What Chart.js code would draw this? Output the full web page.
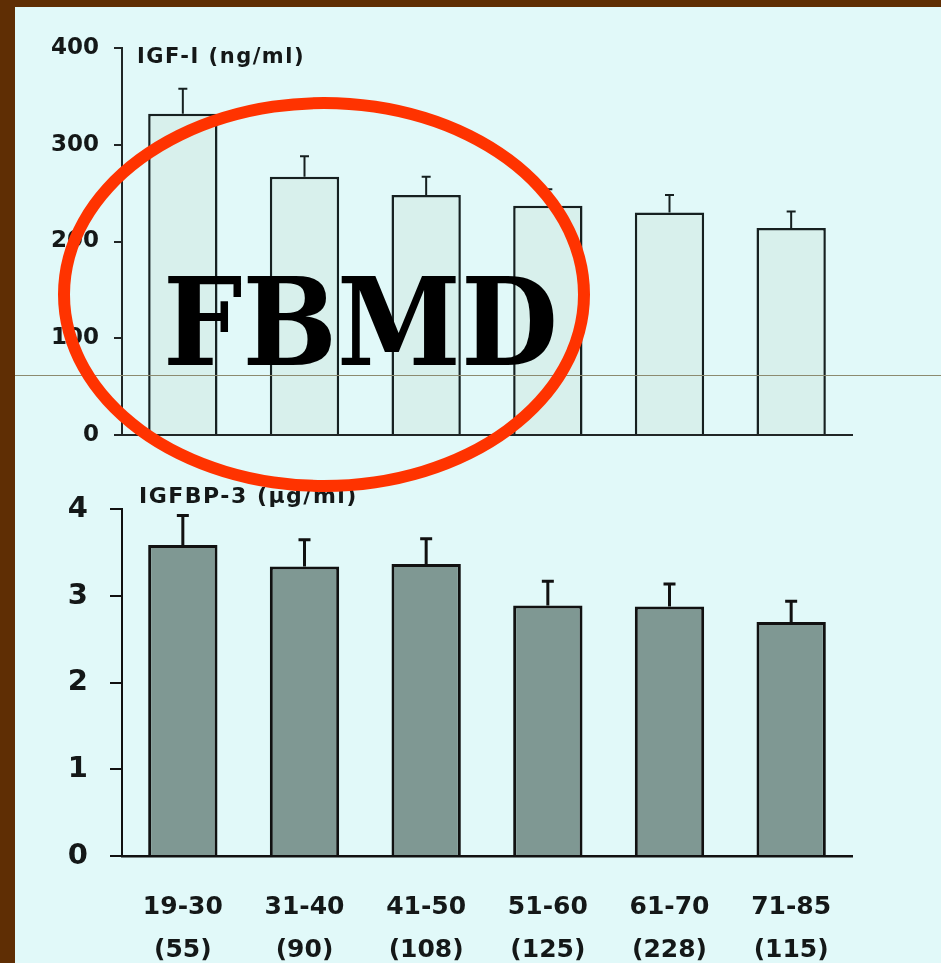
<!DOCTYPE html>
<html>
<head>
<meta charset="utf-8">
<script src="https://cdn.jsdelivr.net/npm/chart.js@4"></script>
<style>
  html, body { margin: 0; padding: 0; }
  body { width: 941px; height: 963px; background: #5f2e04; position: relative; overflow: hidden; }
  #sheet { position: absolute; left: 15px; top: 7px; right: 0; bottom: 0; background: #e1f9f9; }
  canvas { position: absolute; left: 0; }
  #igf1 { top: 0; }
  #igfbp3 { top: 470px; }
  #rule { position: absolute; left: 15px; right: 0; top: 375px; height: 1px; background: #8c8b70; }
  #ring { position: absolute; left: 58px; top: 97px; width: 532px; height: 395px; box-sizing: border-box;
          border: 12px solid #ff3300; border-radius: 50%; }
  #stamp { position: absolute; left: 163px; top: 262px; font: bold 121px "DejaVu Serif"; line-height: 1;
           color: #000; transform-origin: 0 0; white-space: nowrap; }
</style>
</head>
<body>
<div id="sheet"></div>
<canvas id="igf1" width="941" height="470"></canvas>
<canvas id="igfbp3" width="941" height="493"></canvas>
<div id="rule"></div>
<div id="ring"></div>
<div id="stamp">FBMD</div>
<script>
// Age groups and number of subjects per group
const ageGroups = ['19-30', '31-40', '41-50', '51-60', '61-70', '71-85'];
const groupSizes = ['(55)', '(90)', '(108)', '(125)', '(228)', '(115)'];

// Serum IGF-I (ng/ml): group means and error
const igf1Mean = [332, 267, 248, 237, 230, 214];
const igf1Err = [26, 21, 19, 17, 18, 17];

// Serum IGFBP-3 (µg/ml): group means and error
const igfbp3Mean = [3.59, 3.34, 3.37, 2.89, 2.88, 2.70];
const igfbp3Err = [0.34, 0.31, 0.29, 0.28, 0.26, 0.24];

// Y-axis tick values
const igf1Ticks = [0, 100, 200, 300, 400];
const igfbp3Ticks = [0, 1, 2, 3, 4];

// Upward error whiskers with a cap, drawn over each bar
const errorBars = {
  id: 'errorBars',
  afterDatasetsDraw(chart, args, opts) {
    const { ctx } = chart;
    const yScale = chart.scales.y;
    const values = chart.data.datasets[0].data;
    const meta = chart.getDatasetMeta(0);
    ctx.save();
    ctx.strokeStyle = opts.color;
    ctx.lineWidth = opts.width;
    meta.data.forEach((bar, i) => {
      const top = yScale.getPixelForValue(values[i] + opts.values[i]);
      ctx.beginPath();
      ctx.moveTo(bar.x, bar.y);
      ctx.lineTo(bar.x, top);
      ctx.moveTo(bar.x - opts.cap / 2, top);
      ctx.lineTo(bar.x + opts.cap / 2, top);
      ctx.stroke();
    });
    ctx.restore();
  }
};

// Panel heading placed just right of the y axis
const panelTitle = {
  id: 'panelTitle',
  afterDraw(chart, args, opts) {
    const { ctx } = chart;
    ctx.save();
    ctx.font = opts.font;
    ctx.fillStyle = opts.color;
    if ('letterSpacing' in ctx) ctx.letterSpacing = opts.spacing;
    ctx.textAlign = 'left';
    ctx.textBaseline = 'alphabetic';
    ctx.fillText(opts.text, opts.x, opts.y);
    ctx.restore();
  }
};

const ink = '#141818';

new Chart(document.getElementById('igf1'), {
  type: 'bar',
  data: {
    labels: ageGroups,
    datasets: [{
      data: igf1Mean,
      backgroundColor: '#d8f0ec',
      borderColor: '#162020',
      borderWidth: 2.5,
      barPercentage: 0.57,
      categoryPercentage: 1
    }]
  },
  options: {
    responsive: false,
    animation: false,
    events: [],
    layout: { padding: { left: 0, top: 48, right: 89, bottom: 35 } },
    plugins: {
      legend: { display: false },
      tooltip: { enabled: false },
      errorBars: { values: igf1Err, color: '#162020', width: 2, cap: 9 },
      panelTitle: { text: 'IGF-I (ng/ml)', x: 137, y: 63, font: 'bold 21px "DejaVu Sans"', color: ink, spacing: '1.5px' }
    },
    scales: {
      x: {
        grid: { display: false },
        ticks: { display: false },
        border: { display: true, color: '#202626', width: 2 },
        afterFit: s => { s.height = 0; }
      },
      y: {
        min: 0, max: 400,
        afterBuildTicks: s => { s.ticks = igf1Ticks.map(v => ({ value: v })); },
        grid: { display: true, drawOnChartArea: false, drawTicks: true, tickLength: 8, color: '#202626', lineWidth: 2 },
        border: { display: true, color: '#202626', width: 2 },
        ticks: { font: { family: 'DejaVu Sans', weight: 'bold', size: 23 }, color: ink, padding: 15 },
        afterFit: s => { s.width = 122; }
      }
    }
  },
  plugins: [errorBars, panelTitle]
});

new Chart(document.getElementById('igfbp3'), {
  type: 'bar',
  data: {
    labels: ageGroups.map((g, i) => [g, groupSizes[i]]),
    datasets: [{
      data: igfbp3Mean,
      backgroundColor: '#7f9893',
      borderColor: '#111',
      borderWidth: 3,
      barPercentage: 0.57,
      categoryPercentage: 1
    }]
  },
  options: {
    responsive: false,
    animation: false,
    events: [],
    layout: { padding: { left: 0, top: 39, right: 89, bottom: 0 } },
    plugins: {
      legend: { display: false },
      tooltip: { enabled: false },
      errorBars: { values: igfbp3Err, color: '#111', width: 3, cap: 12 },
      panelTitle: { text: 'IGFBP-3 (\u00b5g/ml)', x: 139, y: 33, font: 'bold 22px "DejaVu Sans"', color: ink, spacing: '1.5px' }
    },
    scales: {
      x: {
        grid: { display: false },
        border: { display: true, color: '#111', width: 2.5 },
        ticks: {
          font: { family: 'DejaVu Sans', weight: 'bold', size: 25, lineHeight: 1.72 },
          color: ink, padding: 22, maxRotation: 0, autoSkip: false
        },
        afterFit: s => { s.height = 107; }
      },
      y: {
        min: 0, max: 4,
        afterBuildTicks: s => { s.ticks = igfbp3Ticks.map(v => ({ value: v })); },
        grid: { display: true, drawOnChartArea: false, drawTicks: true, tickLength: 12, color: '#111', lineWidth: 2 },
        border: { display: true, color: '#111', width: 2 },
        ticks: { font: { family: 'DejaVu Sans', weight: 'bold', size: 29 }, color: ink, padding: 22 },
        afterFit: s => { s.width = 122; }
      }
    }
  },
  plugins: [errorBars, panelTitle]
});

// Fit the stamp lettering to its intended width
const stamp = document.getElementById('stamp');
const w = stamp.getBoundingClientRect().width;
stamp.style.transform = 'scaleX(' + (395 / w) + ')';
</script>
</body>
</html>
